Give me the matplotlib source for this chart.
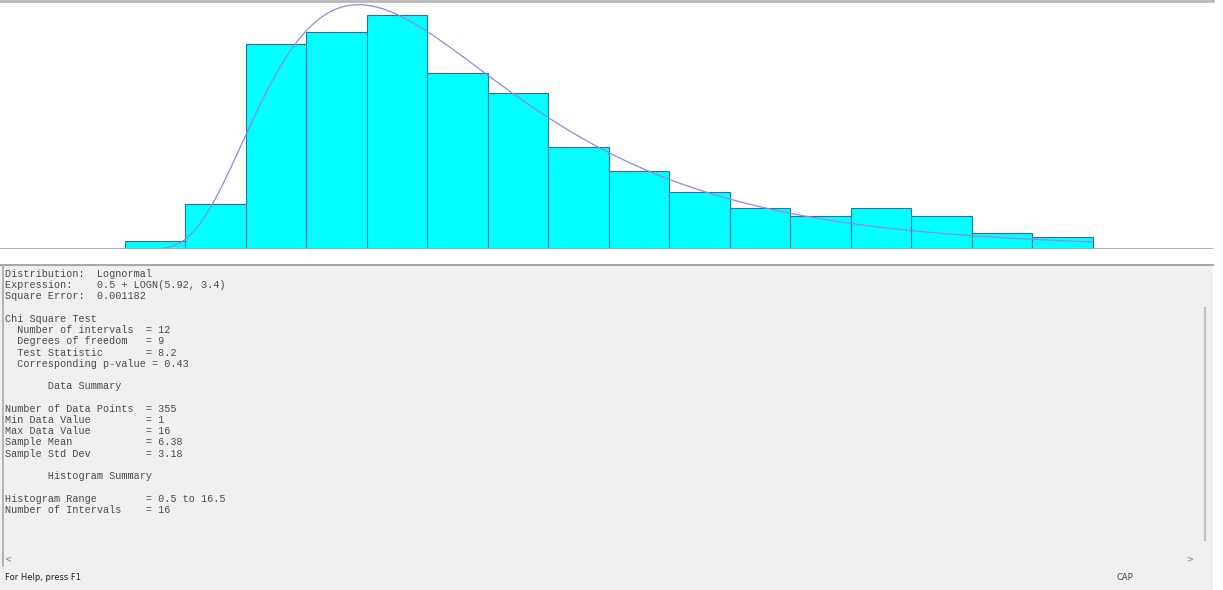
import numpy as np
import matplotlib
matplotlib.use("Agg")
import matplotlib.pyplot as plt
from matplotlib.patches import Rectangle

# histogram data (16 intervals, 0.5 to 16.5)
bin_edges = np.arange(0.5, 17.0, 1.0)
counts = [2, 11, 50, 53, 57, 43, 38, 25, 19, 14, 10, 8, 10, 8, 4, 3]
n_points = 355

# fitted distribution: 0.5 + LOGN(5.92, 3.4)
offset = 0.5
logn_mean = 5.92
logn_std = 3.4

summary_lines = [
    "Distribution:  Lognormal",
    "Expression:    0.5 + LOGN(5.92, 3.4)",
    "Square Error:  0.001182",
    "",
    "Chi Square Test",
    "  Number of intervals  = 12",
    "  Degrees of freedom   = 9",
    "  Test Statistic       = 8.2",
    "  Corresponding p-value = 0.43",
    "",
    "       Data Summary",
    "",
    "Number of Data Points  = 355",
    "Min Data Value         = 1",
    "Max Data Value         = 16",
    "Sample Mean            = 6.38",
    "Sample Std Dev         = 3.18",
    "",
    "       Histogram Summary",
    "",
    "Histogram Range        = 0.5 to 16.5",
    "Number of Intervals    = 16",
]

W, H = 1223, 590
fig = plt.figure(figsize=(W / 100, H / 100), dpi=100)
fig.patch.set_facecolor("#f0f0f0")

# window chrome in pixel coordinates
bg = fig.add_axes([0, 0, 1, 1])
bg.set_xlim(0, W)
bg.set_ylim(H, 0)
bg.axis("off")
bg.add_patch(Rectangle((0, 0), W, 263, color="white", zorder=0))
bg.add_patch(Rectangle((1213, 0), 10, H, color="white", zorder=0))
bg.plot([0, 1213], [1, 1], color="#b8b8b8", lw=2)
bg.plot([0, 1213], [265, 265], color="#a8a8a8", lw=1.5)
bg.plot([3, 3], [265, 566], color="#a8a8a8", lw=1.2)
bg.plot([1205, 1205], [308, 540], color="#c0c0c0", lw=1.5)
bg.text(8, 559, "<", fontsize=6, color="#808080", va="center", ha="center")
bg.text(1190, 559, ">", fontsize=6, color="#808080", va="center", ha="center")
bg.text(5, 578, "For Help, press F1", fontsize=6, color="#202020", va="center",
        family="DejaVu Sans")
bg.text(1125, 578, "CAP", fontsize=6, color="#404040", va="center", ha="center",
        family="DejaVu Sans")

y0 = 274
for i, line in enumerate(summary_lines):
    bg.text(5, y0 + i * 11.23, line, fontsize=7.3, family="Liberation Mono",
            color="#4a4a4a", va="center", ha="left")

# histogram panel
px_per_unit = 60.5
left_px, right_px = 0, 1213
xmin = 0.5 - (125 - left_px) / px_per_unit
xmax = 0.5 + (right_px - 125) / px_per_unit
top_px, base_px = 2, 249
ax = fig.add_axes([left_px / W, 1 - base_px / H, (right_px - left_px) / W,
                   (base_px - top_px) / H])
ax.set_facecolor("none")
ax.set_xlim(xmin, xmax)
ax.set_ylim(0, (base_px - top_px) / 4.1)
ax.axis("off")

ax.bar(bin_edges[:-1], counts, width=1.0, align="edge", color="#00ffff",
       edgecolor="#1a78a8", linewidth=0.8, zorder=2)

sig2 = np.log(1 + logn_std ** 2 / logn_mean ** 2)
mu = np.log(logn_mean) - sig2 / 2
x = np.linspace(0.5001, 16.5, 600)
z = x - offset
pdf = np.exp(-(np.log(z) - mu) ** 2 / (2 * sig2)) / (z * np.sqrt(2 * np.pi * sig2))
ax.plot(x, pdf * n_points, color="#9288e2", lw=0.9, zorder=3)
ax.axhline(0, color="#a8a8a8", lw=2, zorder=4)

fig.savefig("out.png", dpi=100, facecolor=fig.get_facecolor())
